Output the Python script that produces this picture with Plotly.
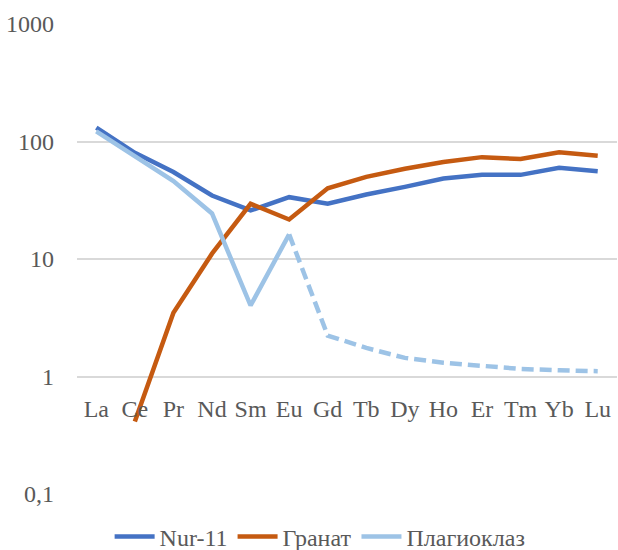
import plotly.graph_objects as go

elements = ["La", "Ce", "Pr", "Nd", "Sm", "Eu", "Gd", "Tb", "Dy", "Ho", "Er", "Tm", "Yb", "Lu"]

nur11 = [131, 80, 55, 34.7, 25.9, 33.6, 29.5, 35.4, 41.1, 48.4, 52, 52, 59.7, 55.9]
granat = [None, 0.414, 3.48, 11.1, 29.5, 21.7, 40, 50, 58.6, 67, 73.6, 71, 81, 75.5]
# plagioclase: measured La..Eu, estimated (dashed) Eu..Lu
plag_solid = [122, 75, 46, 24.4, 4.02, 16.2]
plag_dashed = [16.2, 2.23, 1.75, 1.44, 1.31, 1.22, 1.16, 1.13, 1.11]

y_ticks = [0.1, 1, 10, 100, 1000]
y_ticktext = ["0,1", "1", "10", "100", "1000"]

C_NUR = "#4472C4"
C_GRT = "#C55A11"
C_PLG = "#9DC3E6"
TXT = "#595959"
FONT = "Liberation Serif"
FS = 24

fig = go.Figure()
fig.add_trace(go.Scatter(x=elements, y=nur11, mode="lines", name="Nur-11",
                         line=dict(color=C_NUR, width=4.5)))
fig.add_trace(go.Scatter(x=elements, y=granat, mode="lines", name="Гранат",
                         line=dict(color=C_GRT, width=4.5)))
fig.add_trace(go.Scatter(x=elements[:6], y=plag_solid, mode="lines", name="Плагиоклаз",
                         line=dict(color=C_PLG, width=4.5)))
fig.add_trace(go.Scatter(x=elements[5:], y=plag_dashed, mode="lines", showlegend=False,
                         line=dict(color=C_PLG, width=4.5, dash="12px,6px")))

fig.update_layout(
    width=618, height=550,
    margin=dict(l=77, r=1, t=24, b=56, autoexpand=False),
    plot_bgcolor="white", paper_bgcolor="white",
    font=dict(family=FONT, size=FS, color=TXT),
    showlegend=True,
    legend=dict(orientation="h", xref="container", x=0.518, xanchor="center",
                yref="container", y=0.024, yanchor="middle",
                font=dict(family=FONT, size=FS, color=TXT), itemwidth=40,
                tracegroupgap=0),
)
fig.update_xaxes(
    type="category", categoryorder="array", categoryarray=elements,
    range=[-0.5, 13.5], anchor="free", position=0.25, automargin=False,
    showgrid=False, showline=False, zeroline=False,
    ticks="", ticklabelstandoff=15, tickfont=dict(family=FONT, size=FS, color=TXT),
)
fig.update_yaxes(
    type="log", range=[-1, 3], tickvals=y_ticks, ticktext=y_ticktext, automargin=False,
    showgrid=True, gridcolor="#D9D9D9", gridwidth=1.5, zeroline=False, showline=False,
    ticks="", ticklabelstandoff=22, tickfont=dict(family=FONT, size=FS, color=TXT),
)

fig.write_html("out.html")
